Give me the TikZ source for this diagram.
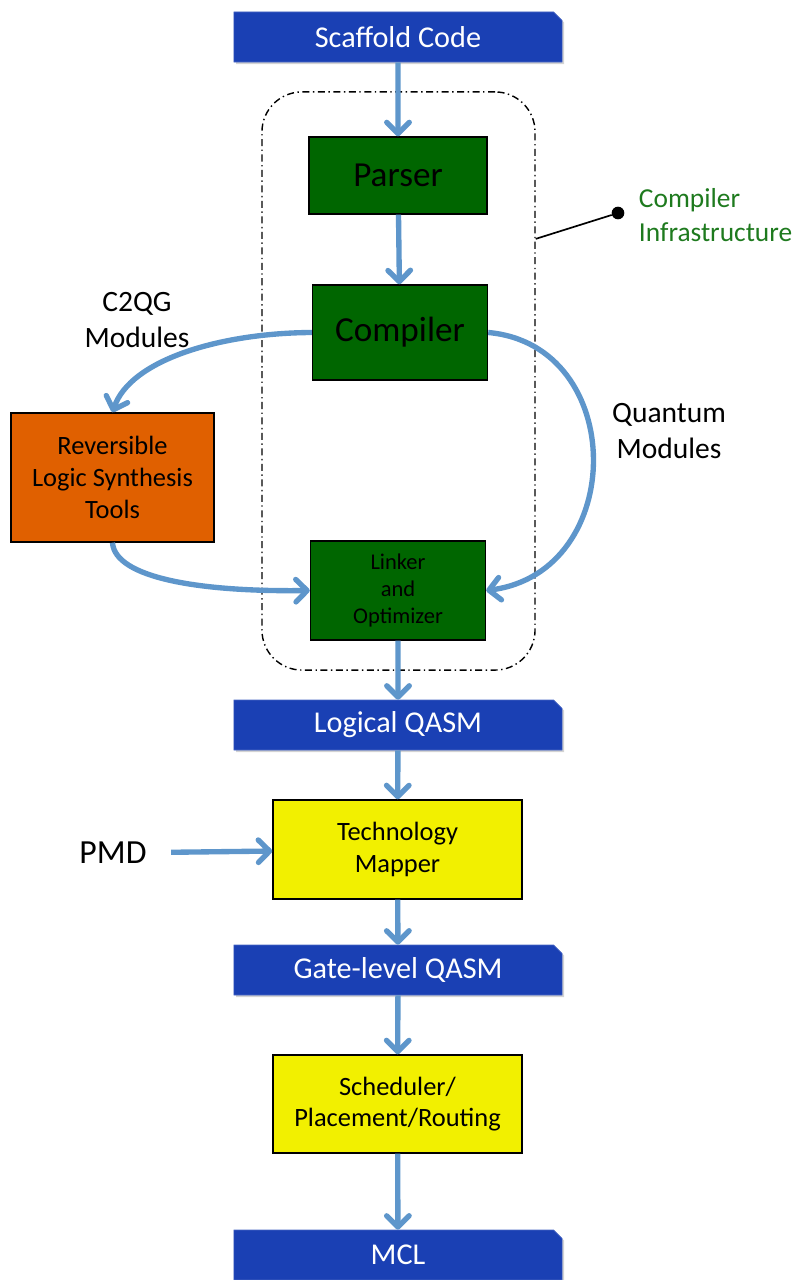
\documentclass[tikz,border=0pt]{standalone}
\usepackage{fontspec}
\setmainfont{Carlito}
\usetikzlibrary{arrows.meta,shapes.misc,shadows}
\definecolor{qasmblue}{HTML}{1A40B4}
\definecolor{flowblue}{HTML}{5E96CB}
\definecolor{passgreen}{HTML}{006600}
\definecolor{toolorange}{HTML}{E06000}
\definecolor{mapyellow}{HTML}{F2F000}
\definecolor{infragreen}{HTML}{1E7A1E}
\tikzset{Banner/.style = {chamfered rectangle, chamfered rectangle corners=north east,
    chamfered rectangle xsep=3pt, chamfered rectangle ysep=3pt,
    fill=qasmblue, draw=qasmblue!80!white, text=white,
    minimum width=8.2cm, minimum height=1.25cm, inner sep=0pt,
    font=\fontsize{21.5}{25}\selectfont,
    drop shadow={opacity=0.35, shadow xshift=1.5pt, shadow yshift=-1.5pt}}}
\tikzset{Stage/.style = {draw=black, line width=1pt, align=center, inner sep=0pt}}
\tikzset{Flow/.style = {-{Straight Barb[length=8pt,width=16pt,round]},
    line width=3.8pt, draw=flowblue}}
\tikzset{Side/.style = {align=center, font=\fontsize{21}{25}\selectfont}}

\begin{document}
\begin{tikzpicture}[x=0.025cm,y=-0.025cm]
\useasboundingbox (0,0) rectangle (795,1280);
\node[draw=black, line width=1pt, rounded corners=1cm,
  dash pattern=on 5pt off 2.5pt on 1pt off 2.5pt,
  minimum width=6.825cm, minimum height=14.45cm] (infrabox) at (398.5,381) {};
\node[Banner] (scaffold) at (398,37) {Scaffold Code};
\node[Stage, fill=passgreen, minimum width=4.45cm, minimum height=1.925cm,
  font=\fontsize{25}{30}\selectfont] (parser) at (398,175.5) {Parser};
\node[Stage, fill=passgreen, minimum width=4.375cm, minimum height=2.375cm,
  font=\fontsize{25}{30}\selectfont] (compiler) at (400,332.5) {Compiler};
\node[Stage, fill=passgreen, minimum width=4.375cm, minimum height=2.475cm,
  font=\fontsize{16}{19}\selectfont] (linker) at (398,590.5) {Linker\\and\\Optimizer};
\node[Stage, fill=toolorange, minimum width=5.075cm, minimum height=3.225cm,
  font=\fontsize{18.8}{22.5}\selectfont] (revlogic) at (112.5,477.5) {Reversible\\Logic Synthesis\\Tools};
\node[Banner] (lqasm) at (398,725) {Logical QASM};
\node[Stage, fill=mapyellow, minimum width=6.225cm, minimum height=2.475cm,
  font=\fontsize{18.8}{22.5}\selectfont] (techmap) at (397.5,849.5) {Technology\\Mapper};
\node[Banner] (gqasm) at (398,970) {Gate-level QASM};
\node[Stage, fill=mapyellow, minimum width=6.225cm, minimum height=2.45cm,
  font=\fontsize{18.8}{22.5}\selectfont] (sched) at (397.5,1104) {Scheduler/\\Placement/Routing};
\node[Banner] (mcl) at (398,1255) {MCL};
\node[font=\fontsize{24}{28}\selectfont] (pmd) at (113,853) {PMD};
\node[Side] (c2qg) at (137,320) {C2QG\\Modules};
\node[Side] (qmods) at (669,431) {Quantum\\Modules};
\node[circle, fill=black, inner sep=0pt, minimum size=9pt] (dot) at (618,213) {};
\node[anchor=west, align=left, text=infragreen, font=\fontsize{19.5}{24}\selectfont]
  (infra) at (634,215) {Compiler\\Infrastructure};
\draw[line width=1.2pt] (infrabox.46.7) -- (dot);
\draw[Flow] (scaffold) -- (parser);
\draw[Flow] (parser) -- (compiler);
\draw[Flow] (linker) -- (lqasm);
\draw[Flow] (lqasm) -- (techmap);
\draw[Flow] (techmap) -- (gqasm);
\draw[Flow] (gqasm) -- (sched);
\draw[Flow] (sched) -- (mcl);
\draw[Flow, shorten <=14pt] (pmd) -- (techmap);
\draw[Flow] (compiler.west) .. controls (220,333) and (130,360) .. (revlogic.north);
\draw[Flow] (revlogic.south) .. controls (115,578) and (200,592) .. (linker.west);
\draw[Flow] (compiler.east) .. controls (628,345) and (628,572) .. (linker.east);
\end{tikzpicture}
\end{document}
